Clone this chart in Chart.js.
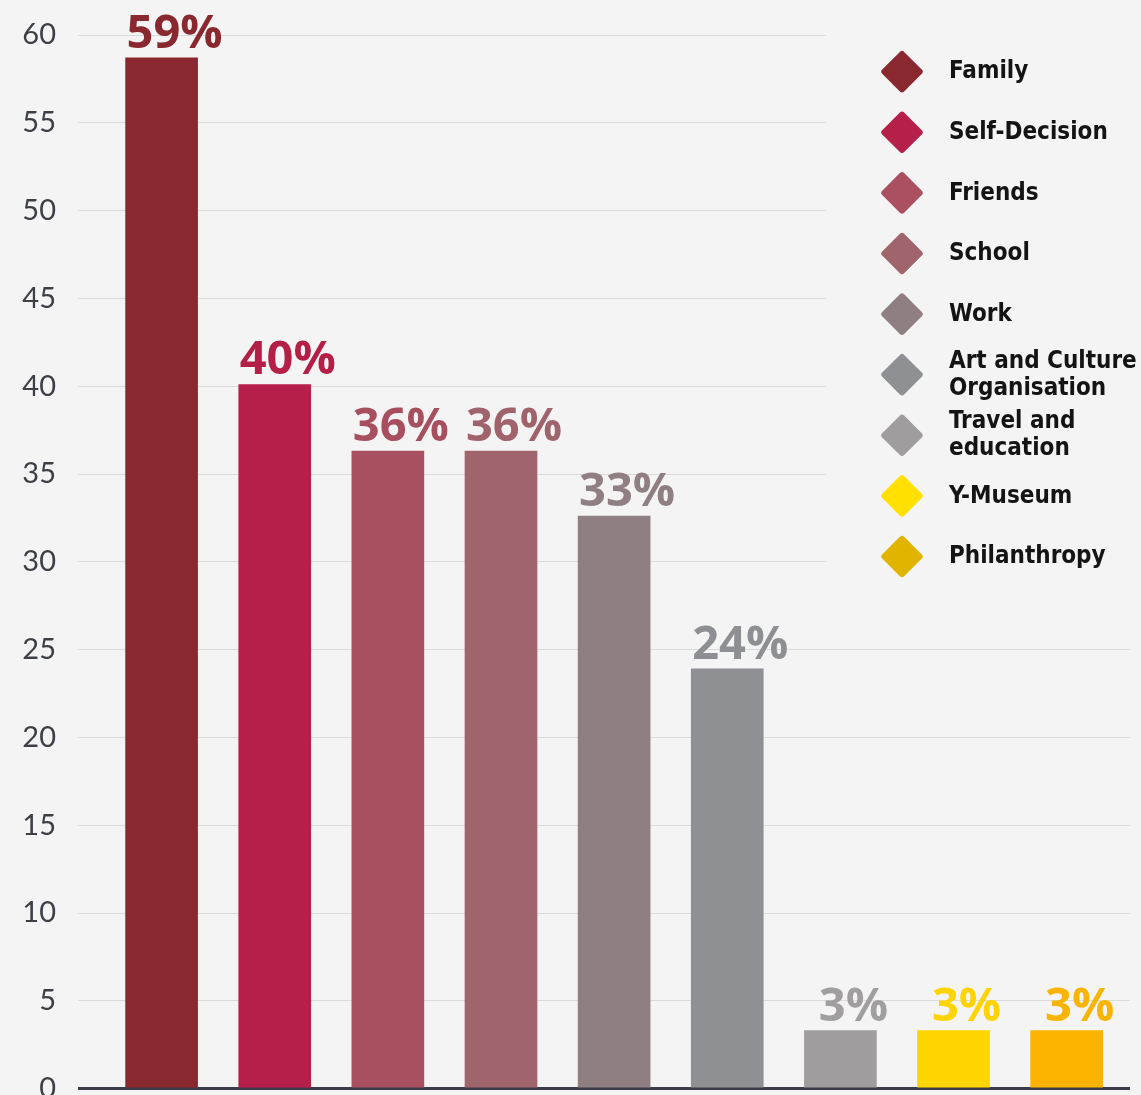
<!DOCTYPE html>
<html>
<head>
<meta charset="utf-8">
<script src="https://cdn.jsdelivr.net/npm/chart.js@4/dist/chart.umd.min.js"></script>
<style>
    html, body { margin: 0; padding: 0; background: #f4f4f4; overflow: hidden; }
    #wrap { width: 1141px; height: 1115px; position: relative; }
</style>
</head>
<body>
<div id="wrap"><canvas id="shareChart"></canvas></div>
<script>
// --- DATA ---
const categories = ['Family', 'Self-Decision', 'Friends', 'School', 'Work', 'Art and Culture Organisation', 'Travel and education', 'Y-Museum', 'Philanthropy'];
const legendLines = [['Family'], ['Self-Decision'], ['Friends'], ['School'], ['Work'], ['Art and Culture', 'Organisation'], ['Travel and', 'education'], ['Y-Museum'], ['Philanthropy']];
const shares = [58.7, 40.1, 36.3, 36.3, 32.6, 23.9, 3.3, 3.3, 3.3];
const shareLabels = ['59%', '40%', '36%', '36%', '33%', '24%', '3%', '3%', '3%'];
const yTickValues = [0, 5, 10, 15, 20, 25, 30, 35, 40, 45, 50, 55, 60];

const barColors = ['#8a2830', '#b51f49', '#a95060', '#a0646c', '#8f7f82', '#8f9094', '#9f9d9e', '#ffd500', '#fbb300'];
const labelColors = ['#8a2830', '#b41f48', '#a84f5f', '#a0636b', '#907f82', '#8e8f93', '#a09e9f', '#ffd400', '#f8b400'];
const legendColors = ['#8a2830', '#b51f49', '#aa5061', '#a0646c', '#907f82', '#8f9094', '#9f9d9e', '#ffe000', '#e1b400'];

// --- PLUGINS ---
const valueLabels = {
    id: 'valueLabels',
    afterDatasetsDraw(chart) {
        const ctx = chart.ctx;
        ctx.save();
        ctx.font = 'bold 47px "Open Sans"';
        ctx.textAlign = 'center';
        ctx.textBaseline = 'alphabetic';
        chart.getDatasetMeta(0).data.forEach((bar, i) => {
            ctx.fillStyle = labelColors[i];
            ctx.fillText(shareLabels[i], bar.x + 13, bar.y - 10);
        });
        ctx.restore();
    }
};

const diamondLegend = {
    id: 'diamondLegend',
    beforeDatasetsDraw(chart) {
        const ctx = chart.ctx;
        ctx.save();
        // legend box sits over the grid lines
        ctx.fillStyle = '#f4f4f4';
        ctx.fillRect(826, 0, chart.width - 826, 600);

        ctx.font = 'bold 24px "DejaVu Sans Condensed", "DejaVu Sans"';
        ctx.textAlign = 'left';
        ctx.textBaseline = 'alphabetic';
        legendLines.forEach((lines, i) => {
            const cy = 71.7 + 60.6 * i;
            ctx.save();
            ctx.translate(902, cy);
            ctx.rotate(Math.PI / 4);
            ctx.fillStyle = legendColors[i];
            ctx.beginPath();
            ctx.roundRect(-15.5, -15.5, 31, 31, 3);
            ctx.fill();
            ctx.restore();

            ctx.fillStyle = '#141414';
            const first = cy + 6.6 - (lines.length - 1) * 13.5;
            lines.forEach((t, k) => ctx.fillText(t, 949, first + k * 27));
        });
        ctx.restore();
    }
};

// --- CHART ---
new Chart(document.getElementById('shareChart'), {
    type: 'bar',
    data: {
        datasets: [{
            label: 'Share',
            data: categories.map((c, i) => ({ x: i, y: shares[i] })),
            backgroundColor: barColors,
            borderWidth: 0,
            barThickness: 72
        }]
    },
    options: {
        responsive: true,
        maintainAspectRatio: false,
        animation: false,
        layout: { padding: { left: 0, right: 11, top: 35, bottom: 7 } },
        plugins: { legend: { display: false }, tooltip: { enabled: false } },
        scales: {
            x: { type: 'linear', min: -0.739, max: 8.56, offset: false, display: false },
            y: {
                min: 0, max: 60,
                afterBuildTicks: s => { s.ticks = yTickValues.map(v => ({ value: v })); },
                afterFit: s => { s.width = 78; },
                border: { display: false },
                grid: {
                    drawTicks: false,
                    color: c => c.tick && c.tick.value === 0 ? '#3c3c46' : '#dadada',
                    lineWidth: c => c.tick && c.tick.value === 0 ? 3 : 1
                },
                ticks: {
                    padding: 22,
                    color: '#3d3f47',
                    font: { family: 'Lato', size: 29, lineHeight: 0.3 }
                }
            }
        }
    },
    plugins: [diamondLegend, valueLabels]
});
</script>
</body>
</html>
